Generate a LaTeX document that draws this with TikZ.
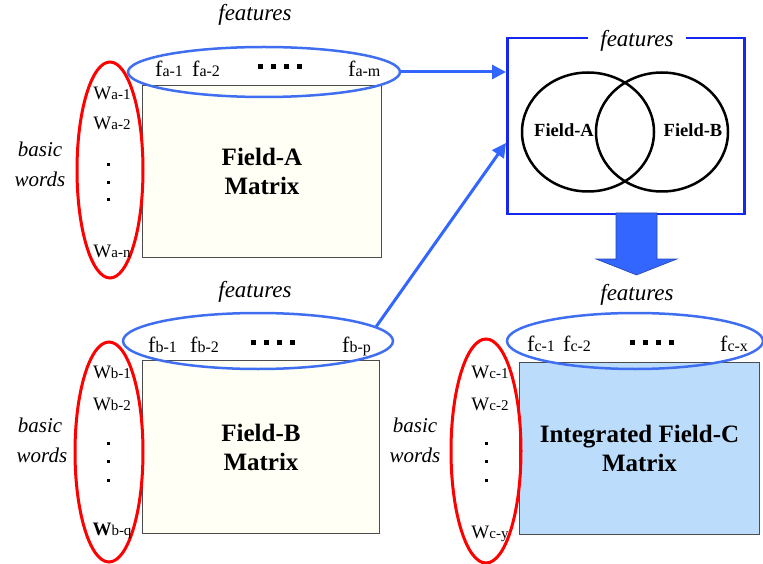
\documentclass[tikz,border=0pt]{standalone}
\usepackage{fontspec}
\setmainfont{LiberationSerif}[Extension=.ttf, UprightFont=*-Regular, BoldFont=*-Bold, ItalicFont=*-Italic, BoldItalicFont=*-BoldItalic]
\usetikzlibrary{arrows.meta,shapes.geometric}
\definecolor{eblue}{HTML}{3F6FF0}
\definecolor{abl}{HTML}{3366FF}
\definecolor{rblue}{HTML}{1428F0}
\definecolor{cream}{HTML}{FFFFF6}
\definecolor{cfill}{HTML}{BBDCFB}
\newcommand\ftag[2]{{\fontsize{22}{24}\selectfont #1}{\fontsize{16}{18}\selectfont #2}}
\newcommand\wtag[2]{{\fontsize{19}{22}\selectfont #1}{\fontsize{15}{18}\selectfont #2}}
\begin{document}
\begin{tikzpicture}[x=1pt,y=-1pt,
 feat/.style={font=\fontsize{23}{26}\selectfont\itshape, inner sep=0pt, anchor=base},
 bw/.style={font=\fontsize{21}{24}\selectfont\itshape, inner sep=0pt, anchor=base},
 mat/.style={draw=gray!60!black, line width=1pt, fill=cream, anchor=north west, inner sep=0pt,
   align=center, font=\fontsize{25}{29}\selectfont\bfseries},
 bell/.style={ellipse, draw=eblue, line width=2.5pt, inner sep=0pt},
 rell/.style={ellipse, draw=red, line width=3pt, inner sep=0pt},
 lab/.style={inner sep=0pt, anchor=base},
 labw/.style={inner sep=0pt, anchor=base west},
 vdot/.style={fill=black, inner sep=0pt, minimum size=3pt},
 hdot/.style={fill=black, inner sep=0pt, minimum size=5pt},
 venn/.style={ellipse, draw=black, line width=2.5pt, inner sep=0pt},
 vlab/.style={inner sep=0pt, font=\fontsize{18.5}{20}\selectfont\bfseries},
 arr/.style={draw=abl, line width=3pt, -{Triangle[length=14pt,width=14pt]}}
]
\useasboundingbox (0,0) rectangle (763,564);

% ---------- Field-A ----------
\node[mat, minimum width=239pt, minimum height=172pt] (mA) at (142,85) {Field-A\\Matrix};
\node[bell, minimum width=272pt, minimum height=50pt] (eA) at (264,72) {};
\node[rell, minimum width=66pt, minimum height=216pt] (rA) at (110,170) {};
\node[feat] (fA) at (255,21) {features};
\node[bw] (bA1) at (40,157) {basic};
\node[bw] (bA2) at (40,187) {words};
\node[labw] (fa1) at (155,77) {\ftag{f}{a-1}};
\node[labw] (fa2) at (192,77) {\ftag{f}{a-2}};
\node[hdot] (dA1) at (260,67) {};
\node[hdot] (dA2) at (273,67) {};
\node[hdot] (dA3) at (286,67) {};
\node[hdot] (dA4) at (299,67) {};
\node[labw] (fam) at (348,77) {\ftag{f}{a-m}};
\node[lab] (wa1) at (112,100) {\wtag{W}{a-1}};
\node[lab] (wa2) at (112,130) {\wtag{W}{a-2}};
\node[vdot] (va1) at (108,165) {};
\node[vdot] (va2) at (108,183) {};
\node[vdot] (va3) at (108,200) {};
\node[lab] (wan) at (112,258) {\wtag{W}{a-n}};

% ---------- Field-B ----------
\node[mat, minimum width=237pt, minimum height=173pt] (mB) at (142,360) {Field-B\\Matrix};
\node[bell, minimum width=270pt, minimum height=56pt] (eB) at (258,341) {};
\node[rell, minimum width=68pt, minimum height=220pt] (rB) at (109,452) {};
\node[feat] (fB) at (255,297) {features};
\node[bw] (bB1) at (40,432) {basic};
\node[bw] (bB2) at (42,462) {words};
\node[labw] (fb1) at (148,352) {\ftag{f}{b-1}};
\node[labw] (fb2) at (190,352) {\ftag{f}{b-2}};
\node[hdot] (dB1) at (253,342) {};
\node[hdot] (dB2) at (266,342) {};
\node[hdot] (dB3) at (279,342) {};
\node[hdot] (dB4) at (292,342) {};
\node[labw] (fbp) at (342,352) {\ftag{f}{b-p}};
\node[lab] (wb1) at (112,378) {\wtag{W}{b-1}};
\node[lab] (wb2) at (112,410) {\wtag{W}{b-2}};
\node[vdot] (vb1) at (108,443) {};
\node[vdot] (vb2) at (108,461) {};
\node[vdot] (vb3) at (108,480) {};
\node[lab] (wbq) at (112,535) {\wtag{\textbf{W}}{b-q}};

% ---------- Field-C ----------
\node[mat, fill=cfill, minimum width=240pt, minimum height=172pt] (mC) at (519,362) {Integrated Field-C\\Matrix};
\node[bell, minimum width=256pt, minimum height=56pt] (eC) at (635,341) {};
\node[rell, minimum width=70pt, minimum height=224pt] (rC) at (486,451) {};
\node[feat] (fC) at (637,300) {features};
\node[bw] (bC1) at (415,432) {basic};
\node[bw] (bC2) at (415,462) {words};
\node[labw] (fc1) at (527,351) {\ftag{f}{c-1}};
\node[labw] (fc2) at (563,351) {\ftag{f}{c-2}};
\node[hdot] (dC1) at (632,342) {};
\node[hdot] (dC2) at (645,342) {};
\node[hdot] (dC3) at (658,342) {};
\node[hdot] (dC4) at (671,342) {};
\node[labw] (fcx) at (720,351) {\ftag{f}{c-x}};
\node[lab] (wc1) at (490,378) {\wtag{W}{c-1}};
\node[lab] (wc2) at (490,410) {\wtag{W}{c-2}};
\node[vdot] (vc1) at (486,443) {};
\node[vdot] (vc2) at (486,461) {};
\node[vdot] (vc3) at (486,480) {};
\node[lab] (wcy) at (490,538) {\wtag{W}{c-y}};

% ---------- Union box ----------
\node[draw=rblue, line width=2.5pt, anchor=north west, minimum width=237pt, minimum height=176pt, inner sep=0pt] (U) at (506,37) {};
\node[feat, fill=white, inner xsep=12pt, inner ysep=3pt] (fU) at (637,47) {features};
\node[venn, minimum width=132pt, minimum height=119pt] (vA) at (588,132) {};
\node[venn, minimum width=132pt, minimum height=119pt] (vB) at (662,132) {};
\node[vlab] (tA) at (564,130) {Field-A};
\node[vlab] (tB) at (693,130) {Field-B};

% ---------- connectors ----------
\coordinate (inA) at (506,72);
\coordinate (inB) at (506,143);
\draw[arr] (eA.east) -- (inA);
\draw[arr] (eB.7) -- (inB);
\filldraw[fill=abl, draw=abl!70!black, line width=0.6pt]
  (616,213) -- (657,213) -- (657,259) -- (677,259) -- (636.5,275) -- (596,259) -- (616,259) -- cycle;
\end{tikzpicture}
\end{document}
